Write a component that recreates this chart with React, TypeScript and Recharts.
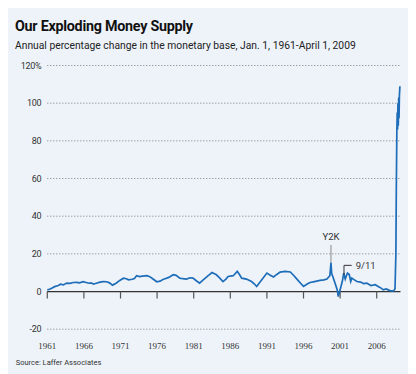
import { CartesianGrid, Line, LineChart, ReferenceDot, ReferenceLine, XAxis, YAxis } from 'recharts'

// year (decimal) and annual % change of the monetary base
const years = [
  1961.0, 1961.3, 1961.6, 1962.0, 1962.5, 1962.8, 1963.2, 1963.65, 1964.1, 1964.55,
  1965.0, 1965.4, 1965.9, 1966.3, 1966.7, 1967.0, 1967.3, 1967.7, 1968.2, 1968.65,
  1969.1, 1969.5, 1969.9, 1970.4, 1970.9, 1971.4, 1971.8, 1972.1, 1972.6, 1972.9,
  1973.2, 1973.6, 1974.0, 1974.6, 1975.0, 1975.4, 1975.95, 1976.4, 1976.8, 1977.1,
  1977.6, 1978.2, 1978.6, 1979.1, 1979.5, 1980.0, 1980.5, 1980.9, 1981.4, 1981.8,
  1982.3, 1982.9, 1983.5, 1984.1, 1984.5, 1985.0, 1985.4, 1985.7, 1986.4, 1986.95,
  1987.25, 1987.55, 1988.2, 1988.9, 1989.3, 1989.6, 1990.3, 1991.0, 1991.4, 1991.9,
  1992.4, 1992.8, 1993.5, 1994.2, 1994.7, 1995.1, 1995.6, 1996.0, 1996.5, 1996.9,
  1997.5, 1998.25, 1998.8, 1999.2, 1999.6, 1999.75, 1999.85, 2000.0, 2000.3, 2000.6,
  2000.75, 2000.9, 2001.0, 2001.3, 2001.5, 2001.7, 2002.0, 2002.25, 2002.45, 2002.6,
  2002.9, 2003.3, 2003.8, 2004.2, 2004.65, 2005.2, 2005.8, 2006.2, 2006.6, 2006.9,
  2007.3, 2007.8, 2008.3, 2008.5, 2008.62, 2008.68, 2008.75, 2008.8, 2008.85, 2008.9,
  2008.95, 2009.0, 2009.05, 2009.1, 2009.17,
]
const growth = [
  0.9, 1.2, 1.8, 2.6, 3.2, 3.9, 3.5, 4.5, 4.3, 4.8,
  4.9, 4.6, 5.2, 4.8, 4.4, 4.6, 3.9, 4.4, 5.0, 5.3,
  5.2, 4.6, 3.4, 4.4, 5.9, 7.1, 6.8, 6.2, 6.5, 6.9,
  8.4, 7.9, 8.2, 8.4, 7.9, 6.8, 5.2, 5.5, 6.4, 6.8,
  7.5, 8.9, 8.6, 7.1, 6.8, 6.6, 7.3, 7.1, 5.6, 4.5,
  6.2, 8.2, 10.1, 8.9, 7.4, 5.3, 6.6, 8.0, 8.4, 10.7,
  9.0, 7.1, 6.6, 5.3, 4.0, 2.7, 6.2, 9.8, 8.8, 7.7,
  9.2, 10.3, 10.7, 10.4, 8.4, 6.6, 4.4, 2.7, 4.0, 4.8,
  5.3, 5.9, 6.2, 6.6, 8.4, 15.2, 9.5, 8.0, 4.5, 1.0,
  -2.7, -0.5, 0.9, 5.3, 9.8, 6.6, 9.8, 9.0, 5.3, 7.1,
  6.3, 5.3, 5.0, 4.2, 4.5, 3.2, 3.6, 2.7, 1.8, 0.9,
  1.4, 0.5, 0.2, 1.5, 20, 55, 85, 95, 86, 100,
  88, 103, 92, 104, 109,
]

const xTicks = [1961, 1966, 1971, 1976, 1981, 1986, 1991, 1996, 2001, 2006]
const yTicks = [-20, 0, 20, 40, 60, 80, 100, 120]

const data = years.map((year, i) => ({ year, value: growth[i] }))

const sans = 'Roboto, "Noto Sans", sans-serif'

export default function App() {
  return (
    <div
      style={{
        position: 'relative',
        width: 400,
        height: 366,
        background: '#eef3fa',
        fontFamily: sans,
        color: '#111',
      }}
    >
      <LineChart
        width={400}
        height={366}
        data={data}
        margin={{ top: 57.5, right: 7.5, left: 0, bottom: 14.8 }}
        style={{ position: 'absolute', left: 0, top: 0 }}
      >
        <CartesianGrid vertical={false} stroke="#7a7a7a" strokeDasharray="1 2" />
        <XAxis
          dataKey="year"
          type="number"
          domain={[1961, 2009.25]}
          ticks={xTicks}
          interval={0}
          axisLine={false}
          tickLine={false}
          tickSize={0}
          tickMargin={13.4}
          height={30}
          tick={{ fontSize: 9, fill: '#333', fontFamily: '"Liberation Serif", serif' }}
        />
        <YAxis
          type="number"
          domain={[-20, 120]}
          ticks={yTicks}
          interval={0}
          axisLine={false}
          tickLine={false}
          tickSize={0}
          tickMargin={6}
          width={39.3}
          tick={{ fontSize: 9, fill: '#333', fontFamily: sans, letterSpacing: -0.3 }}
          tickFormatter={(v: number) => (v === 120 ? '120%' : String(v))}
        />
        <ReferenceLine y={0} stroke="#333" strokeWidth={1.2} />
        {xTicks.map((t) => (
          <ReferenceLine
            key={t}
            segment={[
              { x: t, y: 0 },
              { x: t, y: -3.7 },
            ]}
            stroke="#555"
            strokeWidth={1.2}
          />
        ))}
        <ReferenceLine
          segment={[
            { x: 1999.75, y: 24.7 },
            { x: 1999.75, y: 15 },
          ]}
          stroke="#888"
          strokeWidth={1}
        />
        <ReferenceDot
          x={1999.75}
          y={24.7}
          r={0}
          stroke="none"
          label={{ value: 'Y2K', position: 'top', offset: 5, fontSize: 9.5, fill: '#333', fontFamily: sans }}
        />
        <Line
          dataKey="value"
          type="linear"
          stroke="#1d6db8"
          strokeWidth={1.7}
          dot={false}
          isAnimationActive={false}
        />
        <ReferenceLine
          segment={[
            { x: 2001.53, y: 8.8 },
            { x: 2001.53, y: 13.9 },
          ]}
          stroke="#333"
          strokeWidth={1}
        />
        <ReferenceLine
          segment={[
            { x: 2001.53, y: 13.9 },
            { x: 2002.58, y: 13.9 },
          ]}
          stroke="#333"
          strokeWidth={1}
        />
        <ReferenceDot
          x={2002.58}
          y={13.9}
          r={0}
          stroke="none"
          label={{ value: '9/11', position: 'right', offset: 4, fontSize: 9.5, fill: '#333', fontFamily: sans }}
        />
      </LineChart>
      <div
        style={{
          position: 'absolute',
          left: 7,
          top: 10.6,
          fontSize: 14.3,
          lineHeight: '14px',
          fontWeight: 700,
          letterSpacing: -0.25,
          whiteSpace: 'nowrap',
        }}
      >
        Our Exploding Money Supply
      </div>
      <div
        style={{
          position: 'absolute',
          left: 7,
          top: 33.1,
          fontSize: 10.3,
          lineHeight: '10px',
          color: '#222',
          whiteSpace: 'nowrap',
        }}
      >
        Annual percentage change in the monetary base, Jan. 1, 1961-April 1, 2009
      </div>
      <div
        style={{
          position: 'absolute',
          left: 7.7,
          top: 351,
          fontSize: 7.5,
          lineHeight: '7.5px',
          color: '#333',
          whiteSpace: 'nowrap',
        }}
      >
        Source: Laffer Associates
      </div>
    </div>
  )
}
